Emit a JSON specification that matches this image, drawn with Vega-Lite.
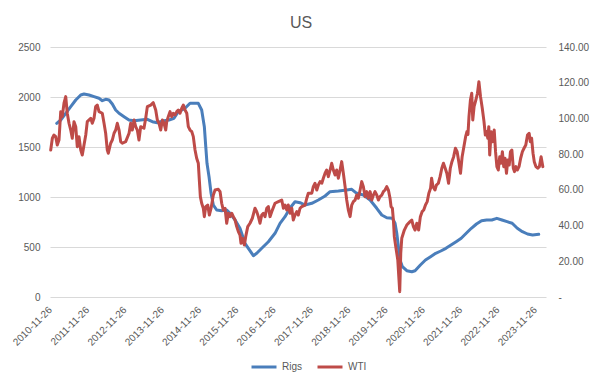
{
 "$schema": "https://vega.github.io/schema/vega-lite/v6.json",
 "width": 496, "height": 250,
 "autosize": {"type": "none"},
 "padding": {"left": 50, "top": 47, "right": 56, "bottom": 92},
 "background": "white",
 "title": {"text": "US", "fontSize": 16, "font": "Liberation Sans", "fontWeight": "normal", "color": "#595959", "offset": -2, "anchor": "middle", "baseline": "alphabetic", "dx": 3},
 "config": {
  "view": {"stroke": null},
  "axis": {"labelFont": "Liberation Sans", "labelFontSize": 10, "labelColor": "#595959", "ticks": false, "domain": false, "gridColor": "#d9d9d9", "title": null},
  "axisX": {"labelOverlap": false, "labelFlush": false, "labelBound": false}
 },
 "datasets": {
  "rigs": [
   {"date":"2011-01-31","Rigs":1737},{"date":"2011-03-11","Rigs":1770},{"date":"2011-04-29","Rigs":1837},{"date":"2011-06-17","Rigs":1903},{"date":"2011-08-05","Rigs":1970},{"date":"2011-09-23","Rigs":2020},{"date":"2011-10-25","Rigs":2030},{"date":"2011-12-13","Rigs":2020},{"date":"2012-01-31","Rigs":2003},{"date":"2012-03-20","Rigs":1987},{"date":"2012-04-21","Rigs":1963},{"date":"2012-05-24","Rigs":1977},{"date":"2012-06-26","Rigs":1970},{"date":"2012-07-28","Rigs":1930},{"date":"2012-08-30","Rigs":1870},{"date":"2012-10-02","Rigs":1837},{"date":"2012-11-20","Rigs":1803},{"date":"2013-01-07","Rigs":1770},{"date":"2013-02-26","Rigs":1763},{"date":"2013-05-02","Rigs":1770},{"date":"2013-07-06","Rigs":1777},{"date":"2013-08-24","Rigs":1753},{"date":"2013-10-12","Rigs":1743},{"date":"2013-12-16","Rigs":1763},{"date":"2014-02-03","Rigs":1770},{"date":"2014-03-24","Rigs":1787},{"date":"2014-05-05","Rigs":1853},{"date":"2014-07-10","Rigs":1887},{"date":"2014-08-28","Rigs":1937},{"date":"2014-11-17","Rigs":1937},{"date":"2014-12-20","Rigs":1870},{"date":"2015-01-15","Rigs":1703},{"date":"2015-01-29","Rigs":1503},{"date":"2015-02-10","Rigs":1337},{"date":"2015-03-02","Rigs":1203},{"date":"2015-03-22","Rigs":1037},{"date":"2015-04-13","Rigs":920},{"date":"2015-05-16","Rigs":870},{"date":"2015-07-04","Rigs":863},{"date":"2015-08-22","Rigs":870},{"date":"2015-09-24","Rigs":837},{"date":"2015-11-12","Rigs":770},{"date":"2015-12-30","Rigs":687},{"date":"2016-02-17","Rigs":537},{"date":"2016-03-21","Rigs":487},{"date":"2016-05-09","Rigs":413},{"date":"2016-06-11","Rigs":437},{"date":"2016-07-30","Rigs":487},{"date":"2016-10-03","Rigs":553},{"date":"2016-12-07","Rigs":637},{"date":"2017-01-25","Rigs":737},{"date":"2017-03-15","Rigs":803},{"date":"2017-05-03","Rigs":890},{"date":"2017-06-21","Rigs":953},{"date":"2017-08-09","Rigs":943},{"date":"2017-09-27","Rigs":920},{"date":"2017-12-02","Rigs":937},{"date":"2018-02-04","Rigs":970},{"date":"2018-04-11","Rigs":1010},{"date":"2018-05-30","Rigs":1053},{"date":"2018-08-19","Rigs":1060},{"date":"2018-11-09","Rigs":1070},{"date":"2018-12-28","Rigs":1077},{"date":"2019-02-15","Rigs":1037},{"date":"2019-04-21","Rigs":1020},{"date":"2019-06-26","Rigs":970},{"date":"2019-08-30","Rigs":887},{"date":"2019-10-18","Rigs":820},{"date":"2019-12-06","Rigs":793},{"date":"2020-01-30","Rigs":787},{"date":"2020-02-25","Rigs":737},{"date":"2020-03-13","Rigs":637},{"date":"2020-03-29","Rigs":503},{"date":"2020-04-14","Rigs":370},{"date":"2020-05-07","Rigs":303},{"date":"2020-06-19","Rigs":263},{"date":"2020-08-07","Rigs":253},{"date":"2020-09-08","Rigs":263},{"date":"2020-10-30","Rigs":320},{"date":"2020-12-19","Rigs":370},{"date":"2021-02-07","Rigs":403},{"date":"2021-03-29","Rigs":437},{"date":"2021-05-18","Rigs":460},{"date":"2021-07-07","Rigs":487},{"date":"2021-08-26","Rigs":520},{"date":"2021-10-15","Rigs":553},{"date":"2021-12-04","Rigs":587},{"date":"2022-01-22","Rigs":637},{"date":"2022-03-13","Rigs":687},{"date":"2022-05-02","Rigs":730},{"date":"2022-06-21","Rigs":763},{"date":"2022-08-10","Rigs":770},{"date":"2022-09-29","Rigs":770},{"date":"2022-11-18","Rigs":787},{"date":"2023-01-07","Rigs":770},{"date":"2023-02-26","Rigs":753},{"date":"2023-04-17","Rigs":737},{"date":"2023-06-06","Rigs":687},{"date":"2023-07-26","Rigs":653},{"date":"2023-09-14","Rigs":630},{"date":"2023-11-03","Rigs":620},{"date":"2024-01-02","Rigs":627}
  ],
  "wti": [
   {"date":"2010-12-03","WTI":82.3},{"date":"2010-12-19","WTI":88.9},{"date":"2011-01-04","WTI":90.7},{"date":"2011-01-21","WTI":89.8},{"date":"2011-02-05","WTI":85.1},{"date":"2011-02-22","WTI":87.9},{"date":"2011-03-11","WTI":103.8},{"date":"2011-03-26","WTI":101},{"date":"2011-04-12","WTI":108.5},{"date":"2011-04-29","WTI":112.2},{"date":"2011-05-14","WTI":102.9},{"date":"2011-05-31","WTI":97.3},{"date":"2011-06-17","WTI":93.5},{"date":"2011-07-02","WTI":88.9},{"date":"2011-07-19","WTI":98.2},{"date":"2011-08-05","WTI":95.4},{"date":"2011-08-20","WTI":84.2},{"date":"2011-09-06","WTI":89.8},{"date":"2011-09-23","WTI":82.3},{"date":"2011-10-08","WTI":79.5},{"date":"2011-10-25","WTI":85.1},{"date":"2011-11-11","WTI":90.7},{"date":"2011-11-26","WTI":98.2},{"date":"2011-12-30","WTI":100.1},{"date":"2012-01-14","WTI":97.3},{"date":"2012-01-31","WTI":100.1},{"date":"2012-02-16","WTI":106.6},{"date":"2012-03-03","WTI":107.5},{"date":"2012-03-20","WTI":103.8},{"date":"2012-04-21","WTI":102.9},{"date":"2012-05-08","WTI":97.3},{"date":"2012-05-24","WTI":91.7},{"date":"2012-06-09","WTI":82.3},{"date":"2012-06-19","WTI":80.5},{"date":"2012-07-12","WTI":86.1},{"date":"2012-07-28","WTI":87.9},{"date":"2012-08-14","WTI":91.7},{"date":"2012-08-30","WTI":93.5},{"date":"2012-09-15","WTI":97.3},{"date":"2012-10-02","WTI":93.5},{"date":"2012-10-18","WTI":87},{"date":"2012-11-03","WTI":86.1},{"date":"2012-12-06","WTI":87},{"date":"2013-01-08","WTI":91.7},{"date":"2013-01-24","WTI":97.3},{"date":"2013-02-09","WTI":93.5},{"date":"2013-02-26","WTI":99.1},{"date":"2013-03-14","WTI":95.4},{"date":"2013-03-30","WTI":93.5},{"date":"2013-04-15","WTI":87.9},{"date":"2013-05-02","WTI":95.4},{"date":"2013-06-03","WTI":94.5},{"date":"2013-06-20","WTI":100.1},{"date":"2013-07-06","WTI":106.6},{"date":"2013-08-08","WTI":107.5},{"date":"2013-09-02","WTI":108.8},{"date":"2013-09-26","WTI":104.7},{"date":"2013-10-12","WTI":99.1},{"date":"2013-10-28","WTI":97.3},{"date":"2013-11-14","WTI":93.5},{"date":"2013-11-30","WTI":99.1},{"date":"2013-12-16","WTI":97.3},{"date":"2014-01-02","WTI":93.5},{"date":"2014-01-12","WTI":98.2},{"date":"2014-01-27","WTI":101},{"date":"2014-02-13","WTI":103.8},{"date":"2014-03-02","WTI":101},{"date":"2014-03-17","WTI":102.9},{"date":"2014-04-03","WTI":102},{"date":"2014-04-20","WTI":103.8},{"date":"2014-05-05","WTI":104.7},{"date":"2014-05-22","WTI":102.9},{"date":"2014-06-08","WTI":105.7},{"date":"2014-06-23","WTI":107.5},{"date":"2014-07-10","WTI":104.7},{"date":"2014-07-27","WTI":102.9},{"date":"2014-08-11","WTI":95.4},{"date":"2014-08-28","WTI":93.5},{"date":"2014-09-14","WTI":92.6},{"date":"2014-09-29","WTI":89.8},{"date":"2014-10-16","WTI":82.3},{"date":"2014-11-01","WTI":77.7},{"date":"2014-11-17","WTI":74.9},{"date":"2014-11-27","WTI":65.5},{"date":"2014-12-07","WTI":56.2},{"date":"2014-12-20","WTI":52.5},{"date":"2015-01-05","WTI":49.7},{"date":"2015-01-15","WTI":45},{"date":"2015-01-29","WTI":50.6},{"date":"2015-02-17","WTI":51.5},{"date":"2015-03-05","WTI":45.9},{"date":"2015-03-22","WTI":49.7},{"date":"2015-04-13","WTI":57.1},{"date":"2015-04-30","WTI":59.9},{"date":"2015-06-01","WTI":60.3},{"date":"2015-06-18","WTI":59},{"date":"2015-07-04","WTI":52.5},{"date":"2015-07-20","WTI":48.7},{"date":"2015-08-06","WTI":49.7},{"date":"2015-08-22","WTI":41.3},{"date":"2015-09-07","WTI":46.9},{"date":"2015-09-24","WTI":45},{"date":"2015-10-10","WTI":46.9},{"date":"2015-10-26","WTI":45},{"date":"2015-11-12","WTI":43.1},{"date":"2015-11-28","WTI":39.4},{"date":"2015-12-14","WTI":36.6},{"date":"2015-12-30","WTI":34.7},{"date":"2016-01-09","WTI":30.1},{"date":"2016-01-22","WTI":32.9},{"date":"2016-02-11","WTI":29.1},{"date":"2016-02-24","WTI":33.8},{"date":"2016-03-15","WTI":39.4},{"date":"2016-04-06","WTI":41.3},{"date":"2016-04-29","WTI":44.1},{"date":"2016-05-25","WTI":49.7},{"date":"2016-06-11","WTI":47.8},{"date":"2016-06-27","WTI":45},{"date":"2016-07-13","WTI":41.3},{"date":"2016-07-30","WTI":45.9},{"date":"2016-08-15","WTI":46.9},{"date":"2016-08-31","WTI":45},{"date":"2016-09-17","WTI":49.7},{"date":"2016-10-03","WTI":50.6},{"date":"2016-10-19","WTI":45},{"date":"2016-11-05","WTI":47.8},{"date":"2016-12-07","WTI":52.5},{"date":"2017-01-09","WTI":53.4},{"date":"2017-02-11","WTI":54.3},{"date":"2017-02-27","WTI":49.7},{"date":"2017-03-15","WTI":51.5},{"date":"2017-04-01","WTI":48.7},{"date":"2017-04-16","WTI":51.5},{"date":"2017-05-03","WTI":46.9},{"date":"2017-05-20","WTI":49.7},{"date":"2017-06-04","WTI":43.1},{"date":"2017-06-21","WTI":45.9},{"date":"2017-07-08","WTI":47.8},{"date":"2017-07-23","WTI":45.9},{"date":"2017-08-09","WTI":49.7},{"date":"2017-08-26","WTI":50.6},{"date":"2017-09-27","WTI":51.5},{"date":"2017-10-14","WTI":55.3},{"date":"2017-10-29","WTI":58.1},{"date":"2017-12-02","WTI":58.1},{"date":"2017-12-17","WTI":61.8},{"date":"2018-01-03","WTI":63.7},{"date":"2018-01-20","WTI":59.9},{"date":"2018-02-04","WTI":62.7},{"date":"2018-02-21","WTI":64.6},{"date":"2018-03-10","WTI":63.7},{"date":"2018-03-25","WTI":66.5},{"date":"2018-04-11","WTI":69.3},{"date":"2018-04-27","WTI":71.1},{"date":"2018-05-13","WTI":67.4},{"date":"2018-05-30","WTI":71.1},{"date":"2018-06-15","WTI":74.9},{"date":"2018-07-01","WTI":71.1},{"date":"2018-07-18","WTI":68.3},{"date":"2018-08-03","WTI":71.1},{"date":"2018-08-19","WTI":66.5},{"date":"2018-09-05","WTI":71.1},{"date":"2018-09-21","WTI":75.8},{"date":"2018-10-07","WTI":69.3},{"date":"2018-10-24","WTI":61.8},{"date":"2018-11-09","WTI":54.3},{"date":"2018-11-25","WTI":48.7},{"date":"2018-12-12","WTI":45},{"date":"2018-12-28","WTI":51.5},{"date":"2019-01-13","WTI":53.4},{"date":"2019-01-30","WTI":54.3},{"date":"2019-02-15","WTI":57.1},{"date":"2019-03-03","WTI":55.3},{"date":"2019-03-20","WTI":59.9},{"date":"2019-04-05","WTI":64.6},{"date":"2019-04-21","WTI":61.8},{"date":"2019-05-08","WTI":56.2},{"date":"2019-05-24","WTI":59},{"date":"2019-06-09","WTI":55.3},{"date":"2019-06-26","WTI":59},{"date":"2019-07-12","WTI":54.3},{"date":"2019-07-28","WTI":57.1},{"date":"2019-08-13","WTI":59},{"date":"2019-08-30","WTI":57.1},{"date":"2019-09-15","WTI":54.3},{"date":"2019-10-01","WTI":56.2},{"date":"2019-10-18","WTI":57.1},{"date":"2019-11-03","WTI":59},{"date":"2019-11-19","WTI":59.9},{"date":"2019-12-06","WTI":61.8},{"date":"2019-12-22","WTI":59.9},{"date":"2020-01-07","WTI":55.3},{"date":"2020-01-17","WTI":50.6},{"date":"2020-01-30","WTI":49.7},{"date":"2020-02-09","WTI":43.1},{"date":"2020-02-18","WTI":33.8},{"date":"2020-03-03","WTI":28.2},{"date":"2020-03-23","WTI":20.7},{"date":"2020-04-04","WTI":9.5},{"date":"2020-04-11","WTI":3},{"date":"2020-04-21","WTI":24.5},{"date":"2020-05-01","WTI":32.9},{"date":"2020-05-26","WTI":37.5},{"date":"2020-06-19","WTI":40.3},{"date":"2020-07-21","WTI":42.2},{"date":"2020-08-07","WTI":43.1},{"date":"2020-08-23","WTI":39.4},{"date":"2020-09-08","WTI":37.5},{"date":"2020-09-25","WTI":41.3},{"date":"2020-10-13","WTI":37.5},{"date":"2020-10-30","WTI":45},{"date":"2020-11-16","WTI":47.8},{"date":"2020-12-02","WTI":48.7},{"date":"2020-12-19","WTI":51.5},{"date":"2021-01-05","WTI":53.4},{"date":"2021-01-21","WTI":58.1},{"date":"2021-02-07","WTI":60.9},{"date":"2021-02-17","WTI":66.5},{"date":"2021-03-03","WTI":61.8},{"date":"2021-03-22","WTI":59.9},{"date":"2021-04-05","WTI":62.7},{"date":"2021-04-24","WTI":63.7},{"date":"2021-05-11","WTI":67.4},{"date":"2021-05-28","WTI":72.1},{"date":"2021-06-13","WTI":74.9},{"date":"2021-06-30","WTI":72.1},{"date":"2021-07-16","WTI":69.3},{"date":"2021-08-02","WTI":63.7},{"date":"2021-08-19","WTI":72.1},{"date":"2021-09-04","WTI":75.8},{"date":"2021-09-21","WTI":78.6},{"date":"2021-10-08","WTI":83.3},{"date":"2021-10-25","WTI":81.4},{"date":"2021-11-10","WTI":75.8},{"date":"2021-11-27","WTI":69.3},{"date":"2021-12-13","WTI":78.6},{"date":"2021-12-30","WTI":84.2},{"date":"2022-01-16","WTI":89.8},{"date":"2022-01-29","WTI":92.6},{"date":"2022-02-08","WTI":91},{"date":"2022-02-18","WTI":101},{"date":"2022-03-04","WTI":110.3},{"date":"2022-03-17","WTI":114.1},{"date":"2022-03-27","WTI":99.1},{"date":"2022-04-09","WTI":106.6},{"date":"2022-04-26","WTI":110.3},{"date":"2022-05-12","WTI":114.1},{"date":"2022-05-26","WTI":120.6},{"date":"2022-06-11","WTI":112.2},{"date":"2022-06-28","WTI":105.7},{"date":"2022-07-15","WTI":98.2},{"date":"2022-07-28","WTI":90.7},{"date":"2022-08-10","WTI":92.6},{"date":"2022-08-21","WTI":88.9},{"date":"2022-08-31","WTI":95.4},{"date":"2022-09-09","WTI":79.5},{"date":"2022-09-23","WTI":92.6},{"date":"2022-10-10","WTI":87},{"date":"2022-10-23","WTI":93.5},{"date":"2022-11-05","WTI":81.4},{"date":"2022-11-18","WTI":73},{"date":"2022-12-02","WTI":71.1},{"date":"2022-12-16","WTI":78.6},{"date":"2022-12-28","WTI":74.9},{"date":"2023-01-11","WTI":81.4},{"date":"2023-01-24","WTI":73},{"date":"2023-02-06","WTI":77.7},{"date":"2023-02-20","WTI":69.3},{"date":"2023-03-05","WTI":76.7},{"date":"2023-03-19","WTI":73.9},{"date":"2023-03-31","WTI":81.4},{"date":"2023-04-14","WTI":82.3},{"date":"2023-04-28","WTI":72.1},{"date":"2023-05-10","WTI":70.2},{"date":"2023-05-24","WTI":73},{"date":"2023-06-06","WTI":71.1},{"date":"2023-06-23","WTI":73},{"date":"2023-07-09","WTI":77.7},{"date":"2023-07-26","WTI":81.4},{"date":"2023-08-11","WTI":83.3},{"date":"2023-08-28","WTI":85.1},{"date":"2023-09-14","WTI":90.7},{"date":"2023-09-30","WTI":91.7},{"date":"2023-10-11","WTI":87},{"date":"2023-10-24","WTI":88.9},{"date":"2023-11-07","WTI":80.5},{"date":"2023-11-19","WTI":75.8},{"date":"2023-12-06","WTI":73},{"date":"2023-12-23","WTI":72.1},{"date":"2024-01-08","WTI":73},{"date":"2024-01-25","WTI":78.6},{"date":"2024-02-11","WTI":73}
  ]
 },
 "encoding": {
  "x": {"field": "date", "type": "temporal",
   "scale": {"type": "utc", "domain": [{"year": 2010, "month": 11, "date": 26, "utc": true}, {"year": 2024, "month": 3, "date": 13, "utc": true}]},
   "axis": {"format": "%Y-%m-%d", "labelAngle": -45, "labelAlign": "right", "labelBaseline": "middle", "labelPadding": 11, "labelFlush": false, "labelOverlap": false, "labelBound": false, "labelSeparation": 0, "grid": false,
    "values": [{"year":2010,"month":11,"date":26,"utc":true},{"year":2011,"month":11,"date":26,"utc":true},{"year":2012,"month":11,"date":26,"utc":true},{"year":2013,"month":11,"date":26,"utc":true},{"year":2014,"month":11,"date":26,"utc":true},{"year":2015,"month":11,"date":26,"utc":true},{"year":2016,"month":11,"date":26,"utc":true},{"year":2017,"month":11,"date":26,"utc":true},{"year":2018,"month":11,"date":26,"utc":true},{"year":2019,"month":11,"date":26,"utc":true},{"year":2020,"month":11,"date":26,"utc":true},{"year":2021,"month":11,"date":26,"utc":true},{"year":2022,"month":11,"date":26,"utc":true},{"year":2023,"month":11,"date":26,"utc":true}]}}
 },
 "layer": [
  {
   "data": {"name": "rigs"},
   "mark": {"type": "line", "strokeWidth": 3, "strokeJoin": "round", "strokeCap": "round"},
   "encoding": {
    "y": {"field": "Rigs", "type": "quantitative", "scale": {"domain": [0, 2500]},
     "axis": {"values": [0, 500, 1000, 1500, 2000, 2500], "format": "d", "grid": true, "labelPadding": 10}},
    "color": {"datum": "Rigs", "type": "nominal",
     "scale": {"domain": ["Rigs", "WTI"], "range": ["#4a7ebb", "#be4b48"]},
     "legend": {"title": null, "orient": "none", "legendX": 200, "legendY": 306, "direction": "horizontal", "symbolType": "stroke", "symbolSize": 625, "symbolStrokeWidth": 3, "labelFont": "Liberation Sans", "labelFontSize": 10, "labelColor": "#595959", "labelOffset": 4, "columnPadding": 8}}
   }
  },
  {
   "data": {"name": "wti"},
   "mark": {"type": "line", "strokeWidth": 3, "strokeJoin": "round", "strokeCap": "round"},
   "encoding": {
    "y": {"field": "WTI", "type": "quantitative", "scale": {"domain": [0, 140]},
     "axis": {"orient": "right", "values": [0, 20, 40, 60, 80, 100, 120, 140], "grid": false, "labelPadding": 12, "labelAlign": "left",
      "labelExpr": "datum.value == 0 ? '-' : format(datum.value, '.2f')"}},
    "color": {"datum": "WTI", "type": "nominal"}
   }
  }
 ],
 "resolve": {"scale": {"y": "independent"}}
}
